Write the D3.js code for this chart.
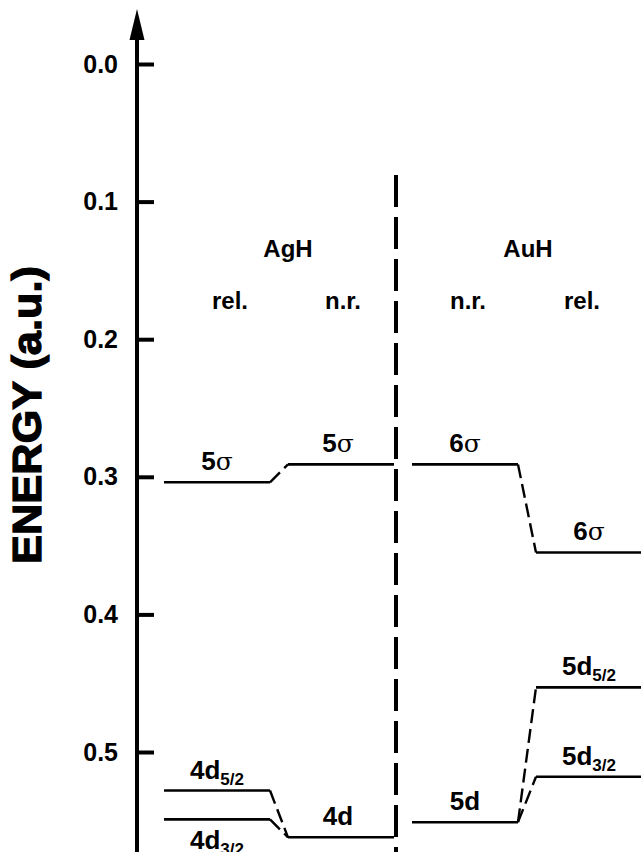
<!DOCTYPE html>
<html>
<head>
<meta charset="utf-8">
<script src="https://cdn.jsdelivr.net/npm/d3@7"></script>
<style>
  html, body { margin: 0; padding: 0; background: #fff; }
  svg { display: block; }
  text { font-family: "Liberation Sans", Arial, Helvetica, sans-serif; fill: #000; }
</style>
</head>
<body>
<svg id="chart" width="641" height="852"></svg>
<script>
// ---- data ----
const tickValues = [0.0, 0.1, 0.2, 0.3, 0.4, 0.5];
const columns = ["rel.", "n.r.", "n.r.", "rel."];
const molecules = ["AgH", "AuH"];
// energy levels (a.u., binding energy downward)
const agRel = [{ main: "5", sym: "σ", sub: "", e: 0.304 },
               { main: "4d", sym: "", sub: "5/2", e: 0.528 },
               { main: "4d", sym: "", sub: "3/2", e: 0.549 }];
const agNR  = [{ main: "5", sym: "σ", sub: "", e: 0.291 },
               { main: "4d", sym: "", sub: "", e: 0.562 }];
const auNR  = [{ main: "6", sym: "σ", sub: "", e: 0.291 },
               { main: "5d", sym: "", sub: "", e: 0.551 }];
const auRel = [{ main: "6", sym: "σ", sub: "", e: 0.355 },
               { main: "5d", sym: "", sub: "5/2", e: 0.453 },
               { main: "5d", sym: "", sub: "3/2", e: 0.518 }];
// connections: [fromColumn, fromIndex, toColumn, toIndex]
const links = [[0, 0, 1, 0], [0, 1, 1, 1], [0, 2, 1, 1],
               [2, 0, 3, 0], [2, 1, 3, 1], [2, 1, 3, 2]];

// ---- layout ----
const svg = d3.select("#chart");
const axisX = 137;
const y = d3.scaleLinear().domain([0, 0.5]).range([64, 752]);
const x = d3.scaleLinear().domain([0, 4]).range([164, 660]);
const colW = 106;
const cols = [agRel, agNR, auNR, auRel];

// Y axis
const axis = d3.axisLeft(y).tickValues(tickValues).tickFormat(d3.format(".1f"))
  .tickSizeInner(-17).tickSizeOuter(0).tickPadding(19);
const gA = svg.append("g").attr("transform", `translate(${axisX},0)`).call(axis);
gA.select(".domain").remove();
gA.selectAll(".tick line").attr("stroke", "#000").attr("stroke-width", 4);
gA.selectAll(".tick text").attr("font-size", 25).attr("font-weight", "bold")
  .attr("font-family", "Liberation Sans, Arial, sans-serif").attr("fill", "#000");

svg.append("line").attr("x1", axisX).attr("x2", axisX).attr("y1", 30).attr("y2", 852)
  .attr("stroke", "#000").attr("stroke-width", 4);
svg.append("path")
  .attr("d", `M${axisX},9 L${axisX - 7.5},40 L${axisX + 7.5},40 Z`)
  .attr("fill", "#000");

// Y title
svg.append("text")
  .attr("transform", "translate(41,415) rotate(-90)")
  .attr("text-anchor", "middle")
  .attr("font-size", 40).attr("font-weight", "bold")
  .attr("stroke", "#000").attr("stroke-width", 1.2)
  .attr("textLength", 298).attr("lengthAdjust", "spacingAndGlyphs")
  .text("ENERGY (a.u.)");

// divider
svg.append("line").attr("x1", 396).attr("x2", 396).attr("y1", 175).attr("y2", 852)
  .attr("stroke", "#000").attr("stroke-width", 4).attr("stroke-dasharray", "32,10");

// headers
const headerDx = [13, 2, 3, -7];
columns.forEach((c, i) => {
  svg.append("text").attr("x", x(i) + colW / 2 + headerDx[i]).attr("y", 309)
    .attr("text-anchor", "middle").attr("font-size", 24).attr("font-weight", "bold").text(c);
});
molecules.forEach((m, i) => {
  const cx = (x(2 * i) + x(2 * i + 1)) / 2 + colW / 2 + (i === 0 ? 9 : 1);
  svg.append("text").attr("x", cx).attr("y", 257)
    .attr("text-anchor", "middle").attr("font-size", 24).attr("font-weight", "bold").text(m);
});

// levels
cols.forEach((lv, ci) => {
  const x0 = x(ci), x1 = Math.min(x(ci) + colW, ci === 1 ? 394 : 641);
  lv.forEach((d, li) => {
    svg.append("line").attr("x1", x0).attr("x2", x1).attr("y1", y(d.e)).attr("y2", y(d.e))
      .attr("stroke", "#000").attr("stroke-width", 2.6);
    // place label below if a level just above in same column is too close
    const crowded = lv.some((o, oi) => oi !== li && o.e < d.e && d.e - o.e < 0.03);
    const ty = crowded ? y(d.e) + 30 : y(d.e) - 12;
    const t = svg.append("text").attr("x", (x0 + x(ci) + colW) / 2 + (ci === 1 ? -3 : 0))
      .attr("y", ty).attr("text-anchor", "middle")
      .attr("font-size", 26).attr("font-weight", "bold");
    t.append("tspan").text(d.main);
    if (d.sym) t.append("tspan").attr("font-weight", "normal")
      .attr("font-family", "DejaVu Serif, Liberation Serif, serif").attr("font-size", 25).text(d.sym);
    if (d.sub) t.append("tspan").attr("font-size", 17).attr("dy", 6).text(d.sub);
  });
});

// dashed connectors
links.forEach(([c0, i0, c1, i1]) => {
  svg.append("line")
    .attr("x1", x(c0) + colW).attr("y1", y(cols[c0][i0].e))
    .attr("x2", x(c1)).attr("y2", y(cols[c1][i1].e))
    .attr("stroke", "#000").attr("stroke-width", 2.4).attr("stroke-dasharray", "14,6");
});
</script>
</body>
</html>
